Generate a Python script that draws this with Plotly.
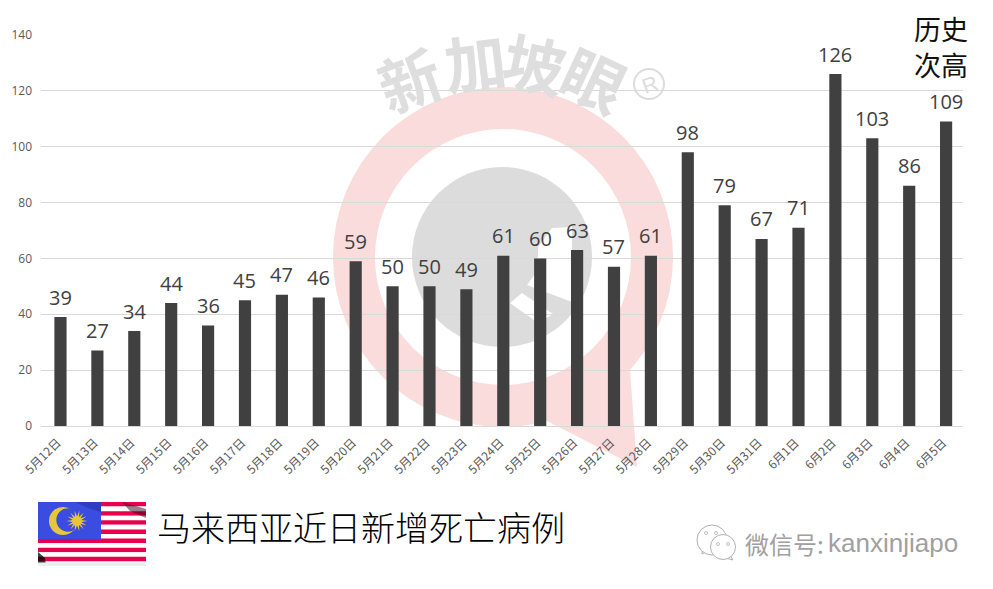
import math
import plotly.graph_objects as go

W, H = 993, 589
L, R, T, B = 41, 963, 35, 426

categories = ["5月12日","5月13日","5月14日","5月15日","5月16日","5月17日","5月18日","5月19日","5月20日","5月21日","5月22日","5月23日","5月24日","5月25日","5月26日","5月27日","5月28日","5月29日","5月30日","5月31日","6月1日","6月2日","6月3日","6月4日","6月5日"]
deaths = [39,27,34,44,36,45,47,46,59,50,50,49,61,60,63,57,61,98,79,67,71,126,103,86,109]
y_ticks = [0,20,40,60,80,100,120,140]
title_text = "马来西亚近日新增死亡病例"
note_lines = ["历史","次高"]
wechat_cjk = "微信号:"
wechat_id = "kanxinjiapo"
brand_chars = ["新","加","坡","眼"]

FONT = "Open Sans, Noto Sans CJK SC, sans-serif"
CJK = "Noto Sans CJK SC, sans-serif"

def px(x): return (x - L) / (R - L)
def py(y): return (B - y) / (B - T)

def circle(cx, cy, r, fill, line=None, lw=0):
    return dict(type="circle", xref="paper", yref="paper", layer="below",
                x0=px(cx-r), x1=px(cx+r), y0=py(cy+r), y1=py(cy-r),
                fillcolor=fill, line=dict(color=line or fill, width=lw))

def rect(x0, y0, x1, y1, fill):
    return dict(type="rect", xref="paper", yref="paper", layer="below",
                x0=px(x0), x1=px(x1), y0=py(y1), y1=py(y0),
                fillcolor=fill, line=dict(width=0))

def poly(points, fill, line=None, lw=0):
    d = "M " + " L ".join(f"{px(a):.5f},{py(b):.5f}" for a, b in points) + " Z"
    return dict(type="path", xref="paper", yref="paper", layer="below", path=d,
                fillcolor=fill, line=dict(color=line or fill, width=lw))

shapes = []
# watermark: pin ring and grey disc
RING = "#fadcdc"
GREY = "#dcdcdc"
shapes.append(circle(503, 257, 170, RING))
shapes.append(poly([(630, 370), (637, 467), (547, 421)], RING))
shapes.append(circle(503, 257, 128, "white"))
shapes.append(circle(502, 257, 90, GREY))
shapes.append(poly([(538, 247), (552, 228), (572, 227), (572, 302), (527, 285), (538, 270)], "white"))
shapes.append(poly([(522, 293), (553, 314), (538, 323), (510, 303)], "white"))
shapes.append(circle(649, 84, 15, "white", "#dcdcdc", 2))

# flag
FX0, FX1, FY0, FY1 = 38, 146, 502, 566
n = 14
sh = (FY1 - FY0) / n
for i in range(n):
    shapes.append(rect(FX0, FY0 + i*sh, FX1, FY0 + (i+1)*sh, "#e8004c" if i % 2 == 0 else "white"))
shapes.append(rect(FX0, FY0, 101, 539, "#3a4de0"))
shapes.append(poly([(75, 502), (101, 502), (101, 512), (88, 508)], "rgba(10,15,90,0.25)"))
shapes.append(circle(63, 521, 14, "#e6c63a"))
shapes.append(circle(68, 520, 11.7, "#3a4de0"))
star = []
for i in range(28):
    r = 10.5 if i % 2 == 0 else 4.5
    a = math.pi * i / 14
    star.append((77 + r*math.cos(a), 521 + r*math.sin(a)))
shapes.append(poly(star, "#e6c63a"))
shapes.append(poly([(122, 502), (146, 509), (146, 518), (130, 511)], "rgba(50,0,25,0.5)"))
shapes.append(poly([(38, 552), (45, 558), (46, 566), (38, 566)], "rgba(0,0,0,0.75)"))
shapes.append(rect(38, 562.5, 146, 566, "#eeeeee"))

# wechat icon
ICON = "#b0b0b0"
shapes.append(poly([(703, 540), (702, 554), (711, 549)], "white", ICON, 1))
shapes.append(circle(712, 540, 15, "white", ICON, 1))
shapes.append(poly([(728, 552), (733, 560), (722, 557)], "white", ICON, 1))
shapes.append(circle(723, 547, 12.5, "white", ICON, 1))
for c in [(706, 533), (716, 533), (718, 544), (728, 544)]:
    shapes.append(circle(c[0], c[1], 1.5, "white", ICON, 0.8))

annotations = []
for c, v in zip(categories, deaths):
    annotations.append(dict(x=c, y=v, text=str(v), showarrow=False, yshift=20,
                            xanchor="center", yanchor="middle",
                            font=dict(family=FONT, size=20, color="#404040")))

def page_text(x, y, text, size, color, family=CJK, rotation=0, xanchor="center", weight=None):
    f = dict(family=family, size=size, color=color)
    if weight: f["weight"] = weight
    annotations.append(dict(xref="paper", yref="paper", x=px(x), y=py(y), text=text,
                            showarrow=False, xanchor=xanchor, yanchor="middle", textangle=rotation,
                            font=f))

WM = "#dedede"
for ch, x, y, rot in zip(brand_chars, [409, 475, 535, 595], [78, 60, 62, 78], [-20, -7, 12, 25]):
    page_text(x, y, ch, 62, WM, rotation=rot, weight=700)
page_text(649, 84, "R", 21, "#dcdcdc", family="Liberation Sans", rotation=-20)
page_text(941, 29, note_lines[0], 27, "#111111")
page_text(941, 64, note_lines[1], 27, "#111111")
page_text(155, 526, title_text, 34, "#000000", xanchor="left", weight=300)
page_text(743, 543, wechat_cjk, 24, "#a0a0a0", xanchor="left")
page_text(826, 543, wechat_id, 26, "#a0a0a0", family="Liberation Sans", xanchor="left")

fig = go.Figure(go.Bar(x=categories, y=deaths, marker=dict(color="#404040", line=dict(width=0))))
fig.update_layout(
    width=W, height=H, autosize=False,
    margin=dict(l=L, r=W-R, t=T, b=H-B, pad=0),
    paper_bgcolor="white", plot_bgcolor="rgba(0,0,0,0)",
    bargap=0.67, showlegend=False,
    font=dict(family=FONT),
    shapes=shapes, annotations=annotations,
)
fig.update_xaxes(type="category", range=[-0.528, 24.458], tickangle=-45, ticks="", showgrid=False, showline=True,
                 linecolor="#d9d9d9", linewidth=1, ticklabelstandoff=4, ticklabelshift=-3,
                 tickfont=dict(family=CJK, size=12, color="#595959"))
fig.update_yaxes(range=[0, 140], tickvals=y_ticks, ticks="", showgrid=True, gridcolor="#d9d9d9",
                 gridwidth=1, zeroline=False, showline=False, ticklabelstandoff=8,
                 tickfont=dict(family=FONT, size=12, color="#595959"))
fig.write_html("out.html", config=dict(displayModeBar=False), post_script="document.body.style.margin='0';")
